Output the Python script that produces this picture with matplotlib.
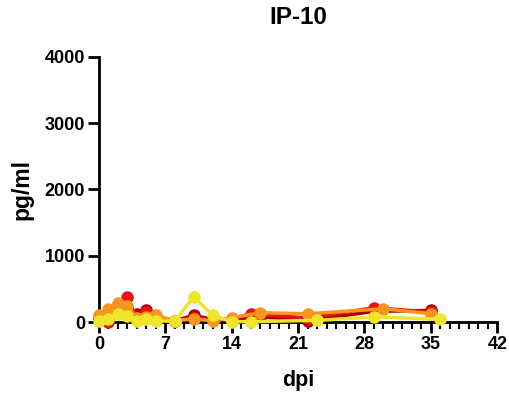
import matplotlib
matplotlib.use('Agg')
import matplotlib.pyplot as plt
from matplotlib.ticker import MultipleLocator

plt.rcParams['font.family'] = ['Liberation Sans', 'DejaVu Sans']
plt.rcParams['font.weight'] = 'bold'

# IP-10 concentrations (pg/ml) per animal
days_darkred = [0, 1, 2, 3, 4, 5, 6, 8, 10, 12, 14, 17, 22, 29, 35]
vals_darkred = [50, 60, 150, 200, 120, 175, 60, 20, 100, 40, 40, 80, 20, 160, 175]

days_red = [0, 1, 2, 3, 4, 5, 6, 8, 10, 12, 14, 16, 22, 29, 35]
vals_red = [30, 0, 130, 380, 50, 150, 30, 10, 60, 30, 50, 125, 60, 215, 150]

days_orange = [0, 1, 2, 3, 4, 5, 6, 8, 10, 12, 14, 17, 22, 30, 35]
vals_orange = [100, 200, 290, 240, 60, 80, 100, 20, 50, 15, 65, 140, 125, 200, 125]

days_yellow = [0, 1, 2, 3, 4, 5, 6, 8, 10, 12, 14, 16, 23, 29, 36]
vals_yellow = [15, 40, 115, 90, 15, 40, 15, 15, 380, 100, 5, 5, 25, 75, 40]

series = [
    (days_darkred, vals_darkred, '#b00000'),
    (days_red, vals_red, '#ee1111'),
    (days_orange, vals_orange, '#f7961e'),
    (days_yellow, vals_yellow, '#eee62c'),
]

fig = plt.figure(figsize=(5.1, 4.01), dpi=100)
ax = fig.add_axes([0.194, 0.197, 0.781, 0.661])

for d, v, c in series:
    ax.plot(d, v, '-o', color=c, lw=2.5, ms=8, clip_on=False, zorder=3)

ax.set_xlim(0, 42)
ax.set_ylim(0, 4000)
ax.xaxis.set_major_locator(MultipleLocator(7))
ax.xaxis.set_minor_locator(MultipleLocator(1))
ax.yaxis.set_major_locator(MultipleLocator(1000))

for s in ['top', 'right']:
    ax.spines[s].set_visible(False)
for s in ['left', 'bottom']:
    ax.spines[s].set_linewidth(2)

ax.tick_params(axis='both', which='major', width=2, length=8, labelsize=13, pad=2)
ax.tick_params(axis='x', which='minor', width=1.5, length=5)

ax.set_title('IP-10', fontsize=17.5, fontweight='bold', pad=24)
ax.set_xlabel('dpi', fontsize=15.5, fontweight='bold', labelpad=12)
ax.set_ylabel('pg/ml', fontsize=16.5, fontweight='bold', labelpad=8)

plt.savefig('out.png', dpi=100)
